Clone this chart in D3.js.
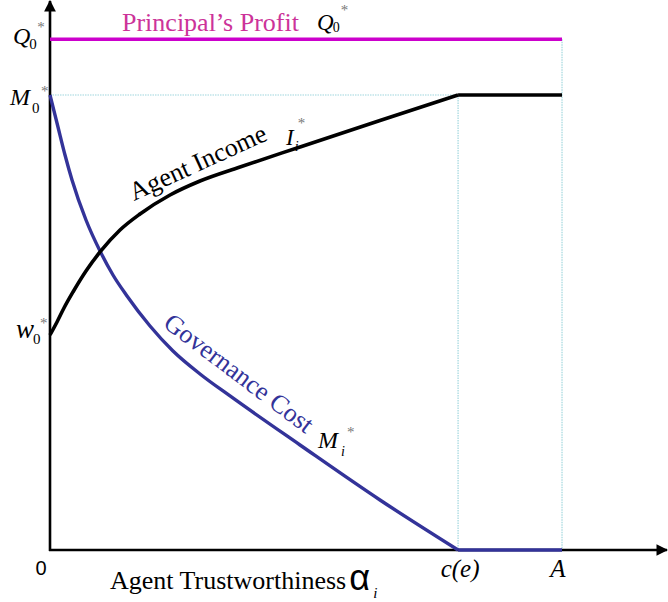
<!DOCTYPE html>
<html>
<head>
<meta charset="utf-8">
<script src="https://cdn.jsdelivr.net/npm/d3@7"></script>
<style>
  body { margin: 0; background: #fff; }
  svg { display: block; }
  .serif { font-family: "Liberation Serif", "Times New Roman", serif; }
  .it { font-style: italic; }
  .star { fill: #777; font-family: "Liberation Serif", serif; }
</style>
</head>
<body>
<svg width="668" height="602"></svg>
<script>
// values (arbitrary units: A = 10 on x, M0* = 8 on y)
const cE = 7.97, A = 10;
const Q0 = 8.98, M0 = 8, W0 = 3.78;

const xTickVals = [0, cE, A];
const xTickLabels = ["0", "c(e)", "A"];

// agent income I_i*, rising to M0* at c(e)
const incomeX = [0, 0.137, 0.273, 0.449, 0.703, 0.977, 1.367, 1.758, 2.344, 2.93, 3.711, 4.883, 6.445, cE];
const incomeY = [W0, 4.009, 4.255, 4.536, 4.905, 5.24, 5.626, 5.908, 6.242, 6.488, 6.734, 7.086, 7.552, M0];

// governance cost M_i*, falling to 0 at c(e)
const costX = [0, 0.156, 0.293, 0.43, 0.703, 0.977, 1.23, 1.504, 1.953, 2.402, 2.93, 3.516, 4.883, 6.445, cE];
const costY = [M0, 7.437, 6.945, 6.505, 5.802, 5.257, 4.835, 4.466, 3.938, 3.499, 3.095, 2.708, 1.846, 0.879, 0];

const svg = d3.select("svg");
const x = d3.scaleLinear().domain([0, 12.07]).range([50, 668]);
const y = d3.scaleLinear().domain([0, 9.67]).range([550, 0]);

const dotted = "#9fd6dd";

// guide lines
function guide(x1, y1, x2, y2) {
    svg.append("line")
        .attr("x1", x1).attr("y1", y1).attr("x2", x2).attr("y2", y2)
        .attr("stroke", dotted).attr("stroke-width", 1.2).attr("stroke-dasharray", "1.5,1");
}
guide(x(0), y(M0), x(cE), y(M0));
guide(x(cE), y(M0), x(cE), y(0));
guide(x(A), y(Q0), x(A), y(0));

// axes with arrow heads
svg.append("defs").append("marker")
    .attr("id", "arrow")
    .attr("viewBox", "0 0 10 10")
    .attr("refX", 9).attr("refY", 5)
    .attr("markerWidth", 4.5).attr("markerHeight", 4.5)
    .attr("markerUnits", "strokeWidth")
    .attr("orient", "auto")
    .append("path").attr("d", "M0,0 L10,5 L0,10 z").attr("fill", "#000");

svg.append("line")
    .attr("x1", x(0)).attr("x2", x(0)).attr("y1", y(0) + 1).attr("y2", 1)
    .attr("stroke", "#000").attr("stroke-width", 2.6).attr("marker-end", "url(#arrow)");
svg.append("line")
    .attr("x1", x(0) - 1).attr("x2", 667).attr("y1", y(0)).attr("y2", y(0))
    .attr("stroke", "#000").attr("stroke-width", 2.6).attr("marker-end", "url(#arrow)");

// principal's profit
svg.append("line")
    .attr("x1", x(0)).attr("x2", x(A)).attr("y1", y(Q0)).attr("y2", y(Q0))
    .attr("stroke", "#cc00cc").attr("stroke-width", 3.6);

const line = d3.line().x(d => x(d[0])).y(d => y(d[1])).curve(d3.curveMonotoneX);

// governance cost
svg.append("path")
    .attr("d", line(costX.map((v, i) => [v, costY[i]])))
    .attr("fill", "none").attr("stroke", "#333399").attr("stroke-width", 3.4);
svg.append("line")
    .attr("x1", x(cE)).attr("x2", x(A)).attr("y1", y(0)).attr("y2", y(0))
    .attr("stroke", "#333399").attr("stroke-width", 3.6);

// agent income
svg.append("path")
    .attr("d", line(incomeX.map((v, i) => [v, incomeY[i]])))
    .attr("fill", "none").attr("stroke", "#000").attr("stroke-width", 3.6);
svg.append("line")
    .attr("x1", x(cE)).attr("x2", x(A)).attr("y1", y(M0)).attr("y2", y(M0))
    .attr("stroke", "#000").attr("stroke-width", 3.6);

// symbol with subscript and asterisk
function symbol(px, py, main, sub, opts) {
    const o = Object.assign({ size: 24, subSize: 15, subDx: 0, subDy: 5, starDx: 8, starDy: -15, color: "#000" }, opts);
    const t = svg.append("text").attr("class", "serif it")
        .attr("x", px).attr("y", py)
        .attr("font-size", o.size).attr("fill", o.color)
        .text(main);
    const w = t.node().getComputedTextLength();
    svg.append("text").attr("class", o.subItalic ? "serif it" : "serif")
        .attr("x", px + w + o.subDx).attr("y", py + o.subDy)
        .attr("font-size", o.subSize).attr("fill", o.color)
        .text(sub);
    svg.append("text").attr("class", "star")
        .attr("x", px + w + o.subDx + o.starDx).attr("y", py + o.starDy)
        .attr("font-size", 15)
        .text("*");
}

symbol(13, y(Q0) + 5, "Q", "0", { subDx: -1, starDy: -12 });
symbol(10, y(M0) + 10, "M", "0", { subDx: 2, subDy: 8, starDx: 9, starDy: -9 });
symbol(16, y(W0) + 3, "w", "0", { size: 27, subDx: -1, subDy: 6, starDx: 7, starDy: -10 });

// principal's profit label
svg.append("text").attr("class", "serif")
    .attr("x", 122).attr("y", 31)
    .attr("font-size", 26).attr("fill", "#cc3399")
    .text("Principal\u2019s Profit");
symbol(317, 30, "Q", "0", { size: 23, subSize: 14, subDx: -1, subDy: 2, starDx: 8, starDy: -15 });

// agent income label along the curve
svg.append("text").attr("class", "serif")
    .attr("transform", "translate(134,201) rotate(-24.5)")
    .attr("font-size", 26).attr("fill", "#000")
    .text("Agent Income");
symbol(286, 145, "I", "i", { size: 23, subSize: 14, subItalic: true, subDx: 1, subDy: 6, starDx: 3, starDy: -17 });

// governance cost label along the curve
svg.append("text").attr("class", "serif")
    .attr("transform", "translate(162,326) rotate(37)")
    .attr("font-size", 26).attr("fill", "#333399")
    .text("Governance Cost");
symbol(318, 448, "M", "i", { size: 24, subSize: 14, subItalic: true, subDx: 3, subDy: 8, starDx: 6, starDy: -11 });

// x tick labels
svg.selectAll(".xtick")
    .data(xTickVals)
    .join("text")
    .attr("class", (d, i) => i === 0 ? "xtick" : "xtick serif it")
    .attr("x", (d, i) => x(d) + [-9, 2, -4][i])
    .attr("y", (d, i) => i === 0 ? 575 : 577)
    .attr("text-anchor", "middle")
    .attr("font-family", (d, i) => i === 0 ? "Liberation Sans, Arial, sans-serif" : null)
    .attr("font-size", (d, i) => i === 0 ? 20 : 25)
    .text((d, i) => xTickLabels[i]);

// x axis title
const title = svg.append("text").attr("class", "serif")
    .attr("x", 110).attr("y", 589)
    .attr("font-size", 26)
    .text("Agent Trustworthiness");
const tw = title.node().getComputedTextLength();
svg.append("text")
    .attr("x", 110 + tw + 3).attr("y", 590)
    .attr("font-family", "Liberation Sans, Arial, sans-serif")
    .attr("font-size", 36)
    .text("\u03b1");
svg.append("text").attr("class", "serif it")
    .attr("x", 110 + tw + 27).attr("y", 598)
    .attr("font-size", 15)
    .text("i");
</script>
</body>
</html>
